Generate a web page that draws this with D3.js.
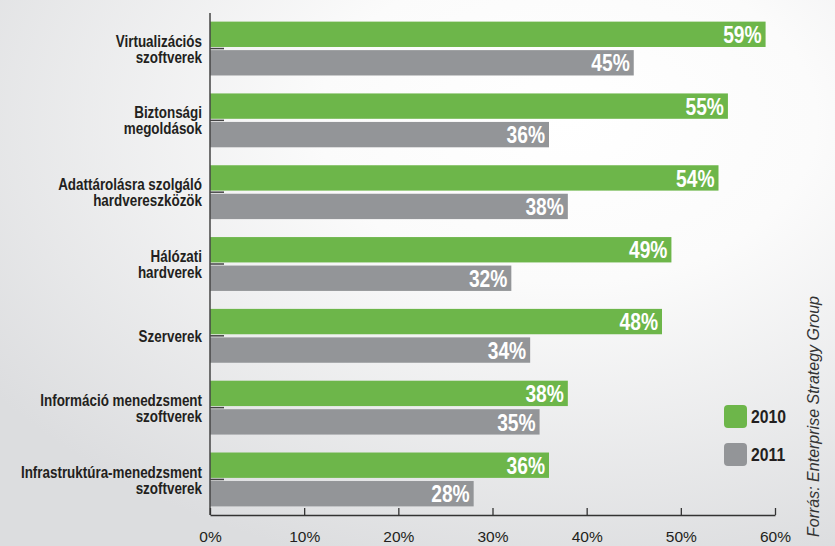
<!DOCTYPE html>
<html>
<head>
<meta charset="utf-8">
<script src="https://cdn.jsdelivr.net/npm/d3@7"></script>
<style>
  body { margin: 0; background: #fff; }
  svg { display: block; }
</style>
</head>
<body>
<div id="chart"></div>
<script>
// Adatok
const categories = [
  "Virtualizációs\nszoftverek",
  "Biztonsági\nmegoldások",
  "Adattárolásra szolgáló\nhardvereszközök",
  "Hálózati\nhardverek",
  "Szerverek",
  "Információ menedzsment\nszoftverek",
  "Infrastruktúra-menedzsment\nszoftverek"
];
const series = ["2010", "2011"];
const values2010 = [59, 55, 54, 49, 48, 38, 36];
const values2011 = [45, 36, 38, 32, 34, 35, 28];
const xTicks = [0, 10, 20, 30, 40, 50, 60];
const sourceText = "Forrás: Enterprise Strategy Group";

const colors = { "2010": "#6db64a", "2011": "#939598" };
const condFont = "'Liberation Sans', Arial, sans-serif";

let config = { width: 835, height: 546, left: 210, right: 60, top: 13, bottom: 31 };

const svg = d3.select("#chart").append("svg")
  .attr("width", config.width)
  .attr("height", config.height);

// háttér
const defs = svg.append("defs");
const grad = defs.append("radialGradient")
  .attr("id", "bg")
  .attr("cx", "68%").attr("cy", "22%").attr("r", "85%");
grad.append("stop").attr("offset", "0%").attr("stop-color", "#ffffff");
grad.append("stop").attr("offset", "35%").attr("stop-color", "#fbfbfb");
grad.append("stop").attr("offset", "100%").attr("stop-color", "#dcdddf");
svg.append("rect")
  .attr("width", config.width).attr("height", config.height)
  .attr("fill", "url(#bg)");

const data = categories.map((c, i) => ({
  cat: c,
  vals: [{ s: "2010", v: values2010[i] }, { s: "2011", v: values2011[i] }]
}));

const xScale = d3.scaleLinear()
  .domain([0, 60])
  .range([config.left, config.width - config.right]);

const yScale = d3.scaleBand()
  .domain(categories)
  .range([config.top, config.height - config.bottom])
  .paddingInner(0.25)
  .paddingOuter(0.12);

const ySub = d3.scaleBand()
  .domain(series)
  .range([0, yScale.bandwidth()])
  .paddingInner(0.11);

// Y tengely (kis jelek + feliratok), keskenyített betűvel
const sxLab = 0.79;
const yAxis = svg.append("g")
  .attr("transform", `translate(${config.left},0)`)
  .call(d3.axisLeft(yScale).tickSizeInner(-14).tickSizeOuter(0).tickPadding(8));
yAxis.select(".domain").remove();
yAxis.selectAll(".tick line").attr("stroke", "#444").attr("stroke-width", 1.5);
yAxis.selectAll(".tick text")
  .attr("fill", "#231f20")
  .attr("transform", `scale(${sxLab},1)`)
  .style("font-family", condFont)
  .style("font-weight", "bold")
  .style("font-size", "17px")
  .each(function(d) {
    const lines = d.split("\n");
    const t = d3.select(this).text(null).attr("dy", null).attr("x", null);
    const lh = 16;
    lines.forEach((l, i) => {
      t.append("tspan")
        .attr("x", -8 / sxLab)
        .attr("y", (i - (lines.length - 1) / 2) * lh)
        .attr("dy", "0.36em")
        .text(l);
    });
  });

// oszlopok
const groups = svg.append("g").selectAll("g")
  .data(data)
  .join("g")
  .attr("transform", d => `translate(0,${yScale(d.cat)})`);

groups.selectAll("rect")
  .data(d => d.vals)
  .join("rect")
  .attr("x", xScale(0))
  .attr("y", d => ySub(d.s))
  .attr("width", d => xScale(d.v) - xScale(0))
  .attr("height", ySub.bandwidth())
  .attr("fill", d => colors[d.s]);

const sxVal = 0.8;
groups.selectAll("text")
  .data(d => d.vals)
  .join("text")
  .attr("transform", `scale(${sxVal},1)`)
  .attr("x", d => (xScale(d.v) - 4) / sxVal)
  .attr("y", d => ySub(d.s) + ySub.bandwidth() / 2)
  .attr("dy", "0.36em")
  .attr("text-anchor", "end")
  .attr("fill", "#fff")
  .style("font-family", condFont)
  .style("font-weight", "bold")
  .style("font-size", "24px")
  .text(d => d.v + "%");

// függőleges tengelyvonal
svg.append("line")
  .attr("x1", config.left).attr("x2", config.left)
  .attr("y1", config.top).attr("y2", config.height - config.bottom)
  .attr("stroke", "#444").attr("stroke-width", 1.5);

// X tengely
const xAxis = svg.append("g")
  .attr("transform", `translate(0,${config.height - config.bottom})`)
  .call(d3.axisBottom(xScale).tickValues(xTicks).tickFormat(d => d + "%")
    .tickSizeInner(-7).tickSizeOuter(0));
xAxis.select(".domain").attr("stroke", "#333").attr("stroke-width", 1.3);
xAxis.selectAll(".tick line").attr("stroke", "#333").attr("stroke-width", 1.3);
xAxis.selectAll(".tick text")
  .attr("y", 27)
  .attr("dy", null)
  .attr("fill", "#231f20")
  .style("font-family", "'Liberation Sans', sans-serif")
  .style("font-size", "15.5px");

// jelmagyarázat
const sxLeg = 0.83;
const legend = svg.append("g").attr("transform", "translate(724,405)");
const li = legend.selectAll("g").data(series).join("g")
  .attr("transform", (d, i) => `translate(0,${i * 38})`);
li.append("rect")
  .attr("width", 23).attr("height", 23).attr("rx", 4)
  .attr("fill", d => colors[d]);
li.append("text")
  .attr("transform", `scale(${sxLeg},1)`)
  .attr("x", 27 / sxLeg).attr("y", 11.5).attr("dy", "0.36em")
  .attr("fill", "#231f20")
  .style("font-family", condFont)
  .style("font-weight", "bold")
  .style("font-size", "19px")
  .text(d => d);

// forrás
svg.append("text")
  .attr("transform", "translate(819,537) rotate(-90)")
  .attr("fill", "#333")
  .style("font-family", "'Liberation Sans', sans-serif")
  .style("font-style", "italic")
  .style("font-size", "16px")
  .text(sourceText);
</script>
</body>
</html>
